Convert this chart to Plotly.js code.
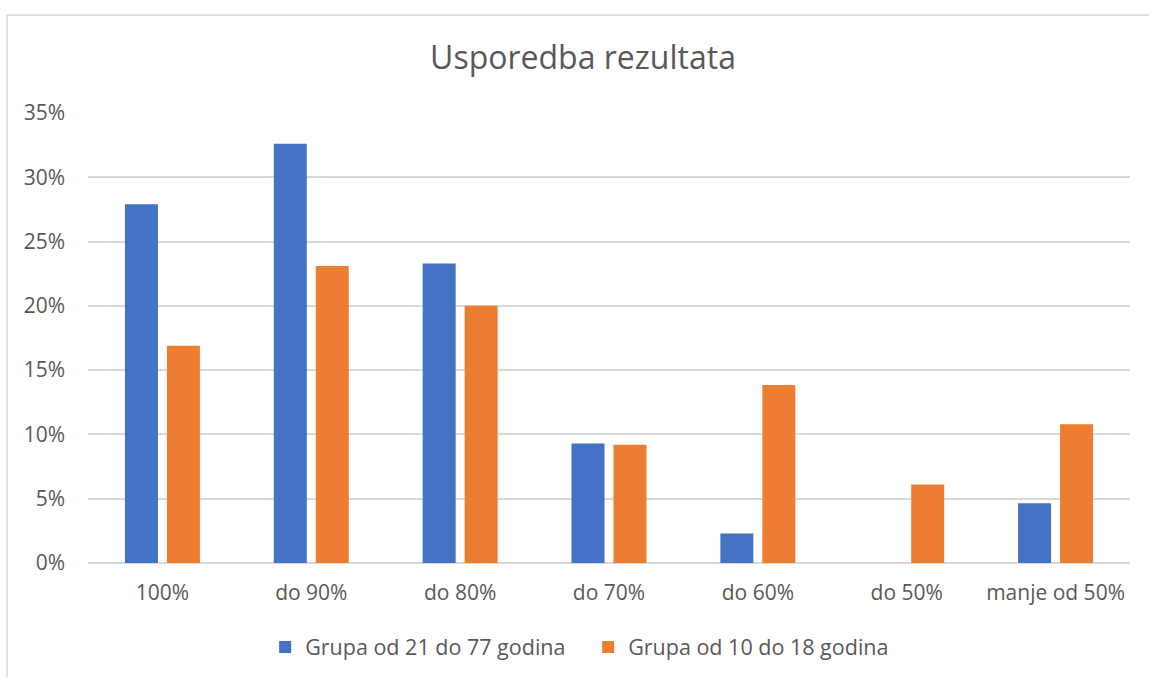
<!DOCTYPE html>
<html>
<head>
<meta charset="utf-8">
<script src="https://cdn.plot.ly/plotly-3.0.1.min.js"></script>
<style>
html,body{margin:0;padding:0;background:#fff;}
#chart{width:1149px;height:677px;}
</style>
</head>
<body>
<div id="chart"></div>
<script>
const categories = ["100%", "do 90%", "do 80%", "do 70%", "do 60%", "do 50%", "manje od 50%"];
const seriesNames = ["Grupa od 21 do 77 godina", "Grupa od 10 do 18 godina"];
const group21to77 = [0.279, 0.326, 0.233, 0.093, 0.023, 0, 0.0465];
const group10to18 = [0.169, 0.231, 0.200, 0.092, 0.1385, 0.061, 0.108];
const yTicks = [0, 0.05, 0.10, 0.15, 0.20, 0.25, 0.30, 0.35];
const yTickLabels = ["0%", "5%", "10%", "15%", "20%", "25%", "30%", "35%"];
const chartTitle = "Usporedba rezultata";

const fontFamily = "'Open Sans', 'Noto Sans', sans-serif";
const textColor = "#595959";
const gridColor = "#d9d9d9";

const traces = [
  {type: "bar", name: seriesNames[0], x: categories, y: group21to77,
   marker: {color: "#4472C4"}, hoverinfo: "x+y"},
  {type: "bar", name: seriesNames[1], x: categories, y: group10to18,
   marker: {color: "#ED7D31"}, hoverinfo: "x+y"}
];

const layout = {
  width: 1149, height: 677,
  paper_bgcolor: "#fff", plot_bgcolor: "#fff",
  margin: {l: 88, r: 19, t: 113, b: 114, pad: 0},
  font: {family: fontFamily, color: textColor, size: 21},
  title: {text: chartTitle, x: 583 / 1149, xanchor: "center", xref: "container",
          y: 1 - 58 / 677, yref: "container", yanchor: "middle",
          font: {family: fontFamily, size: 32, color: textColor}},
  barmode: "group", bargap: 0.436, bargroupgap: 0.214,
  xaxis: {type: "category", showgrid: false, zeroline: false, showline: false,
          ticks: "", ticklabelstandoff: 15,
          tickfont: {family: fontFamily, size: 21, color: textColor}},
  yaxis: {range: [0, 0.35], tickvals: yTicks, ticktext: yTickLabels,
          showgrid: true, gridcolor: gridColor, gridwidth: 1.5,
          zeroline: true, zerolinecolor: gridColor, zerolinewidth: 1.5,
          showline: false, ticks: "", ticklabelstandoff: 22,
          tickfont: {family: fontFamily, size: 21, color: textColor}},
  showlegend: true,
  legend: {orientation: "h", x: 0.170, xanchor: "left", y: 1 - 647 / 677, yref: "container",
           yanchor: "middle", entrywidth: 278, entrywidthmode: "pixels",
           font: {family: fontFamily, size: 21.5, color: textColor},
           bgcolor: "rgba(0,0,0,0)", traceorder: "normal"},
  shapes: [
    {type: "line", xref: "paper", yref: "paper", x0: -0.0777, x1: 1.1, y0: 1.2178, y1: 1.2178,
     line: {color: gridColor, width: 1.5}},
    {type: "line", xref: "paper", yref: "paper", x0: -0.0777, x1: -0.0777, y0: 1.2178, y1: -0.3,
     line: {color: gridColor, width: 1.5}}
  ]
};

Plotly.newPlot("chart", traces, layout, {displayModeBar: false, staticPlot: false});
</script>
</body>
</html>
